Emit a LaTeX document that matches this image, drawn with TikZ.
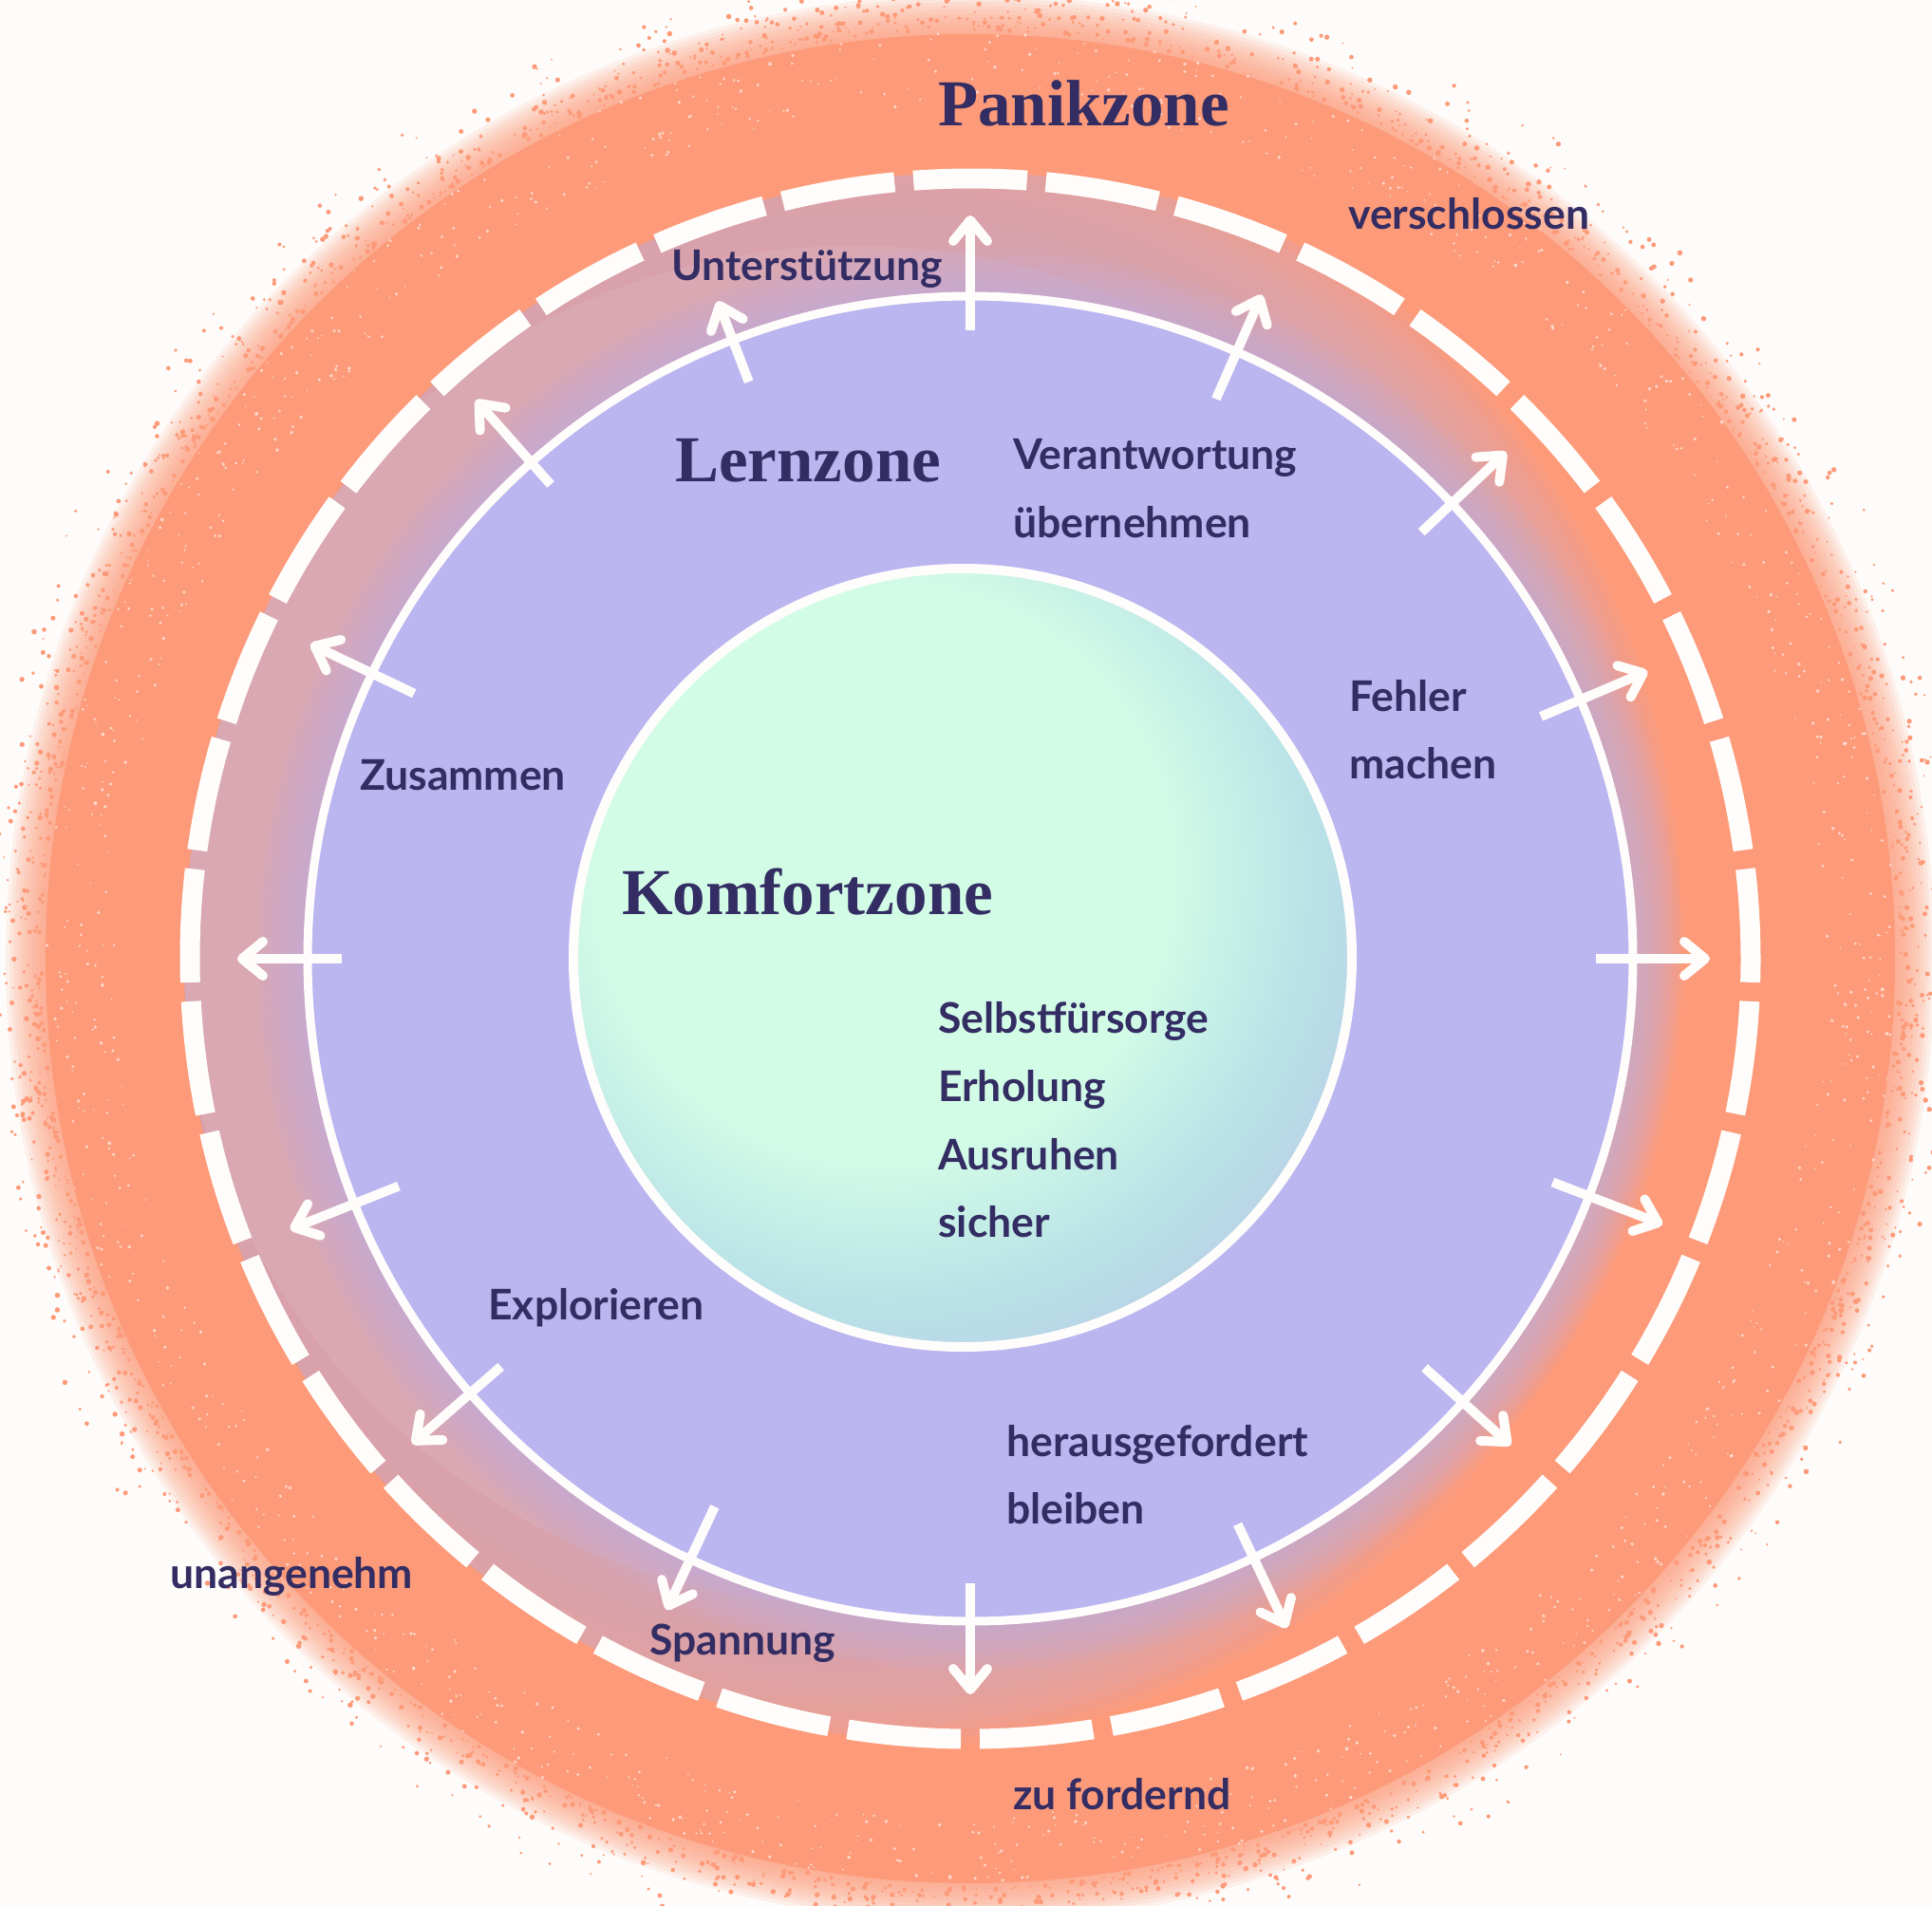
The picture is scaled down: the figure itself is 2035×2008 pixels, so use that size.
\documentclass[tikz,border=0pt]{standalone}
\usepackage{fontspec}
\setmainfont{Liberation Serif}
\newfontfamily\labfont{Lato}
\usetikzlibrary{arrows.meta,calc}
\definecolor{bgc}{HTML}{FEFCFA}
\definecolor{orng}{HTML}{FC9A79}
\definecolor{pinkc}{HTML}{D9A8B3}
\definecolor{lavc}{HTML}{BBB5F0}
\definecolor{lavt}{HTML}{B9ADF0}
\definecolor{mintc}{HTML}{D3FCE7}
\definecolor{ink}{HTML}{332D63}
\definecolor{wht}{HTML}{FFFDFB}
\begin{document}
\begin{tikzpicture}[x=1pt,y=-1pt,
  lab/.style={font=\labfont\bfseries\fontsize{44.5}{53}\selectfont, text=ink, anchor=base west, inner sep=0pt},
  zone/.style={font=\bfseries\fontsize{69}{80}\selectfont, text=ink, anchor=base west, inner sep=0pt},
  outarrow/.style={draw=wht, line width=10pt, -{Straight Barb[length=22pt,width=36pt,round]}},
]
\useasboundingbox (0,0) rectangle (2035,2008);
\fill[bgc] (0,0) rectangle (2035,2008);
\coordinate (C) at (1022,1010);
\coordinate (P) at (900,975);
\coordinate (M) at (1014,1009);
\coordinate (Q) at (930,920);
% Panikzone blob
\foreach \r in {1016,1012,...,976} \fill[orng, fill opacity=0.12] (C) circle[radius=\r pt];
\fill[orng] (C) circle[radius=974pt];
\pgfmathsetseed{7}
\foreach \k in {1,...,2600} {
  \pgfmathsetmacro\ang{rnd*360}
  \pgfmathsetmacro\rr{978+85*rnd*rnd}
  \pgfmathsetmacro\ds{1+1.8*rnd}
  \fill[orng] ($(C)+(\ang:\rr pt)$) circle[radius=\ds pt];
}
\foreach \k in {1,...,1100} {
  \pgfmathsetmacro\ang{rnd*360}
  \pgfmathsetmacro\rr{900+75*rnd}
  \pgfmathsetmacro\ds{0.8+1.2*rnd}
  \fill[bgc, fill opacity=0.6] ($(C)+(\ang:\rr pt)$) circle[radius=\ds pt];
}
% pink band
\begin{scope}
\clip (C) circle[radius=828pt];
\foreach \r in {870,862,...,718} \fill[pinkc, fill opacity=0.14] (P) circle[radius=\r pt];
\fill[pinkc] (P) circle[radius=716pt];
\end{scope}
% dashed boundary
\draw[wht, line width=21pt, dash pattern=on 119.6pt off 20pt] ($(C)+(94.17:822pt)$) arc[start angle=94.17, end angle=-265.83, radius=822pt];
% Lernzone
\foreach \r in {750,744,...,702} \fill[lavc, fill opacity=0.07] (C) circle[radius=\r pt];
\fill[lavc] (C) circle[radius=698pt];
\draw[wht, line width=9pt] (C) circle[radius=698pt];
% Komfortzone
\fill[mintc] (M) circle[radius=410pt];
\begin{scope}
\clip (M) circle[radius=410pt];
\foreach \r in {300,306,...,540} \fill[lavt, fill opacity=0.010, even odd rule] (M) circle[radius=560pt] (Q) circle[radius=\r pt];
\end{scope}
\draw[wht, line width=10pt] (M) circle[radius=410pt];
% arrows
\foreach \a/\ri/\ro [count=\i] in {0/659/779, 23/653/775, 43.4/654/777, 66.3/644/764, 90/662/783, 111/651/742, 131.5/667/786, 154.5/649/770, 180/662/772, 201.7/648/771, 221/655/779, 245/637/757, 270/658/775, 295.3/659/780, 318/644/766, 339/657/781} {
  \coordinate (t\i) at ($(C)+(\a:\ri pt)$);
  \coordinate (h\i) at ($(C)+(\a:\ro pt)$);
  \draw[outarrow] (t\i) -- (h\i);
}
% zone titles
\node[zone] (panik) at (988,132) {Panikzone};
\node[zone] (lern) at (711,507) {Lernzone};
\node[zone] (komfort) at (655,963) {Komfortzone};
% labels
\node[lab] (unter) at (707,295) {Unterstützung};
\node[lab] (versch) at (1420,241) {verschlossen};
\node[lab] (veran) at (1067,494) {Verantwortung};
\node[lab] (ueber) at (1067,566) {übernehmen};
\node[lab] (fehler) at (1421,749) {Fehler};
\node[lab] (machen) at (1421,820) {machen};
\node[lab] (zus) at (379,832) {Zusammen};
\node[lab] (selbst) at (988,1088) {Selbstfürsorge};
\node[lab] (erh) at (988,1160) {Erholung};
\node[lab] (ausr) at (988,1232) {Ausruhen};
\node[lab] (sicher) at (988,1303) {sicher};
\node[lab] (expl) at (514,1390) {Explorieren};
\node[lab] (heraus) at (1060,1534) {herausgefordert};
\node[lab] (bleiben) at (1060,1605) {bleiben};
\node[lab] (spann) at (684,1743) {Spannung};
\node[lab] (unang) at (179,1673) {unangenehm};
\node[lab] (zuf) at (1067,1906) {zu fordernd};
\end{tikzpicture}
\end{document}
